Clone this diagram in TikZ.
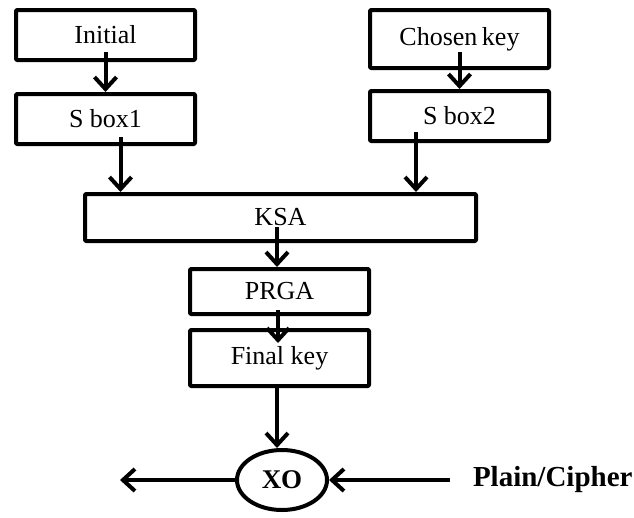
\documentclass[tikz,border=0pt]{standalone}
\usepackage{fontspec}
\setmainfont{Liberation Serif}
\usetikzlibrary{arrows.meta,shapes.geometric}
\begin{document}
\begin{tikzpicture}[x=1pt, y=-1pt, line width=4pt, line join=round,
    >={Straight Barb[length=12pt,width=22pt]},
    box/.style={rectangle, draw, rounded corners=1pt, minimum width=179pt, minimum height=50pt, inner sep=0pt,
      font=\fontsize{26pt}{30pt}\selectfont},
    arr/.style={->}]
    \useasboundingbox (0,0) rectangle (634,517);

    \node[box] (init) at (105.5,35) {Initial};
    \node[box] (sbox1) at (105.5,119) {S box1};
    \node[box, minimum height=58pt] (chosen) at (459.5,39) {Chosen\hspace{-2pt} key};
    \node[box] (sbox2) at (459.5,116) {S box2};
    \node[box, minimum width=391pt, minimum height=47pt] (ksa) at (280.5,217.5) {\raisebox{-5pt}{KSA}};
    \node[box, minimum height=45pt] (prga) at (279.5,291.5) {PRGA};
    \node[box, minimum height=56pt] (final) at (279.5,358) {Final key};
    \node[ellipse, draw, minimum width=90pt, minimum height=60pt, inner sep=0pt,
      font=\fontsize{27pt}{30pt}\selectfont\bfseries] (xo) at (282,480) {XO};
    \node[anchor=west, inner sep=0pt, font=\fontsize{29pt}{30pt}\selectfont\bfseries] (plain) at (471,480) {Plain/Cipher};
    \coordinate (out) at (120,480);

    \draw[arr] ([yshift=10pt]init.south) -- (sbox1.north);
    \draw[arr] ([xshift=15pt,yshift=9pt]sbox1.south) -- ([xshift=15pt]sbox1.south |- ksa.north);
    \draw[arr] ([yshift=18pt]chosen.south) -- (sbox2.north);
    \draw[arr] ([xshift=-43.5pt,yshift=11pt]sbox2.south) -- ([xshift=-43.5pt]sbox2.south |- ksa.north);
    \draw[arr] ([xshift=-3.5pt,yshift=16pt]ksa.south) -- ([xshift=-2.5pt]prga.north);
    \draw[arr] ([xshift=-1.5pt,yshift=6pt]prga.south) -- ([xshift=-1.5pt,yshift=-15pt]final.north);
    \draw[arr] ([xshift=-2.5pt]final.south) -- ([xshift=-5pt]xo.north);
    \draw[arr] (xo.west) -- (out);
    \draw[arr] ([xshift=-21pt]plain.west) -- (xo.east);
\end{tikzpicture}
\end{document}
